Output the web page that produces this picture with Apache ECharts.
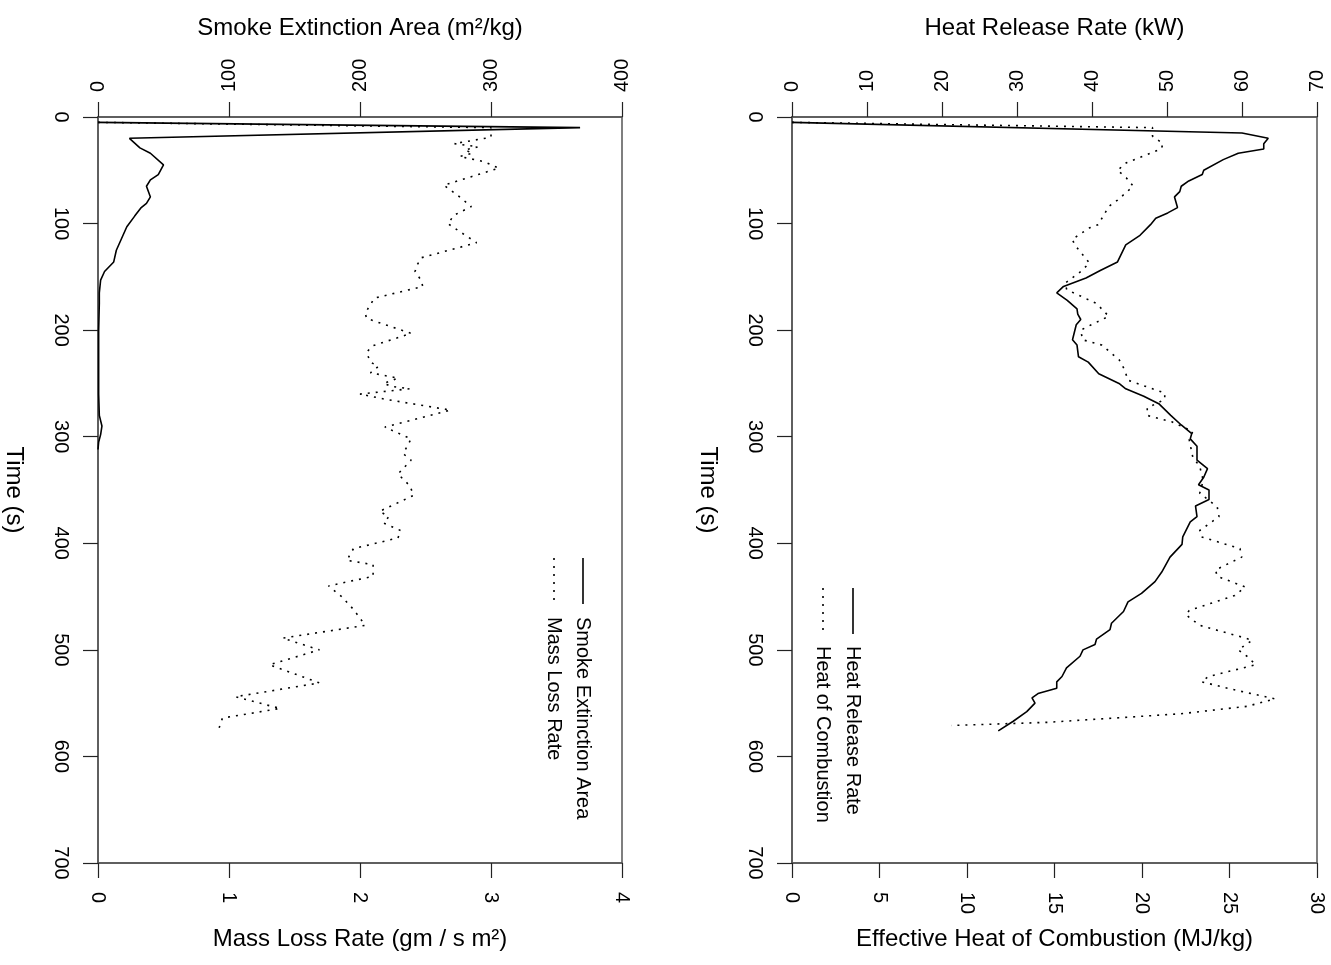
<!DOCTYPE html>
<html>
<head>
<meta charset="utf-8">
<script src="https://cdn.jsdelivr.net/npm/echarts@6/dist/echarts.min.js"></script>
<style>
html,body{margin:0;padding:0;background:#fff;}
#chart{width:1331px;height:965px;}
</style>
</head>
<body>
<div id="chart"></div>
<script>
// ---- Data (time in s) ----
var seaTime  = [5,10,20,29,34,45,54,59,65,75,81,85,93,103,114,125,136,145,153,165,175,200,230,260,280,290,298,305,312];
var seaValue = [0,368,24,32,40,50,46,40,37,40,37,33,28,22,18,14,12,5,2,1,1,0.5,0.5,0.5,1,3,2,0.5,0];

var mlrTime  = [5,10,19,25,28,31,34,37,42,48,56,64,74,84,92,100,109,118,132,138,145,152,159,170,184,189,203,215,221,230,234,240,245,250,253,255,260,265,275,291,302,316,322,335,346,355,370,375,381,388,395,405,416,420,431,440,450,462,477,489,500,514,531,544,555,564,575];
var mlrValue = [0,3.0,3.0,2.72,2.9,2.8,2.86,2.76,2.95,3.06,2.85,2.64,2.75,2.85,2.72,2.67,2.78,2.89,2.47,2.44,2.42,2.46,2.48,2.11,2.04,2.05,2.39,2.09,2.05,2.08,2.14,2.08,2.29,2.18,2.25,2.38,2.0,2.2,2.69,2.19,2.39,2.33,2.39,2.29,2.38,2.41,2.15,2.22,2.18,2.31,2.29,1.95,1.90,2.10,2.10,1.76,1.86,1.95,2.04,1.41,1.69,1.31,1.69,1.05,1.39,0.95,0.92];

var hrrTime  = [5,15,20,25,30,34,40,50,54,60,65,70,75,85,90,95,101,111,120,136,144,151,159,165,172,180,185,190,195,209,214,225,230,241,250,255,262,269,280,289,297,302,309,322,330,338,345,350,359,365,375,380,394,401,413,427,436,447,455,464,475,481,490,495,500,506,517,525,530,536,541,545,550,558,567,576];
var hrrValue = [0,60,63.5,62.9,62.9,59.5,57.5,54.9,54.7,52.9,51.9,51.7,51.0,51.4,50.1,48.5,47.8,46.4,44.5,43.4,41.1,39.2,36.2,35.3,36.7,38.0,38.1,38.5,37.9,37.4,38.0,38.2,39.5,40.9,43.6,44.5,46.9,48.9,50.5,51.9,53.3,53.1,54.0,54.0,55.4,54.9,54.2,55.6,55.6,53.8,54.0,53.1,52.1,52.0,50.4,49.3,48.4,46.6,44.8,44.2,42.6,42.4,40.6,40.4,38.8,38.4,36.6,36.0,35.3,35.3,32.8,32.0,32.4,31.3,29.5,27.5];

var ehcTime  = [5,10,18,25,30,43,50,57,65,78,84,101,104,115,123,137,145,156,162,175,187,195,200,209,214,228,237,247,251,259,265,273,280,286,295,303,319,328,341,353,366,375,388,394,405,413,425,431,441,449,463,467,477,488,491,500,506,514,525,530,538,546,553,560,564,568,571];
var ehcValue = [0,20.6,20.6,21.2,21.1,19.1,18.6,19.1,19.5,18.6,18.1,17.5,17.0,16.0,16.3,17.0,16.5,15.6,15.7,17.4,18.1,17.1,16.5,16.6,17.7,18.7,19.0,19.2,19.9,21.3,21.3,20.3,20.3,21.7,22.9,22.7,22.9,23.3,23.5,23.3,24.3,24.4,23.3,23.4,25.6,25.7,24.2,24.3,25.9,25.3,22.7,22.5,23.3,25.7,26.3,25.5,26.0,26.5,23.8,23.4,25.4,27.6,26.0,22.2,18.4,14.6,9.1];

// axis ranges / ticks
var timeAxis = {min:0, max:700, step:100};
var seaAxis  = {min:0, max:400, step:100};
var mlrAxis  = {min:0, max:4, step:1};
var hrrAxis  = {min:0, max:70, step:10};
var ehcAxis  = {min:0, max:30, step:5};

var legendLeft  = ['Smoke Extinction Area', 'Mass Loss Rate'];
var legendRight = ['Heat Release Rate', 'Heat of Combustion'];

function pairs(t, v){ return t.map(function(x,i){ return [v[i], x]; }); }

var FONT = '"Liberation Sans", Arial, sans-serif';
var tickFont = {fontFamily: FONT, fontSize: 20, color: '#000'};
var nameFont = {fontFamily: FONT, fontSize: 24, color: '#000'};

function xAx(grid, pos, rng, name, gap, margin){
  return {
    type:'value', gridIndex:grid, position:pos, min:rng.min, max:rng.max, interval:rng.step,
    name:name, nameLocation:'middle', nameGap:gap, nameTextStyle:nameFont,
    axisLine:{show:true, onZero:false, lineStyle:{color:'#555', width:1.5}},
    axisTick:{show:true, inside:false, length:15, lineStyle:{color:'#222', width:1.2}},
    axisLabel:Object.assign({rotate:-90, margin:margin}, tickFont),
    splitLine:{show:false}
  };
}
function yAx(grid){
  return {
    type:'value', gridIndex:grid, position:'left', inverse:true,
    min:timeAxis.min, max:timeAxis.max, interval:timeAxis.step,
    name:'Time (s)', nameLocation:'middle', nameRotate:-90, nameGap:72, nameTextStyle:nameFont,
    axisLine:{show:true, onZero:false, lineStyle:{color:'#555', width:1.5}},
    axisTick:{show:true, inside:false, length:15, lineStyle:{color:'#222', width:1.2}},
    axisLabel:Object.assign({rotate:-90, margin:27}, tickFont),
    splitLine:{show:false}
  };
}
var solid = {color:'#000', width:1.6, type:'solid'};
var dotted = {color:'#000', width:1.6, type:[2,6], cap:'butt'};

function legendGraphic(x1, x2, yLineTop, yLineBot, yText, labels){
  var g = [];
  g.push({type:'line', shape:{x1:x1, y1:yLineTop, x2:x1, y2:yLineBot}, style:{stroke:'#000', lineWidth:1.6}});
  g.push({type:'line', shape:{x1:x2, y1:yLineTop, x2:x2, y2:yLineBot}, style:{stroke:'#000', lineWidth:1.6, lineDash:[2,6]}});
  g.push({type:'text', x:x1, y:yText, rotation:-Math.PI/2, style:{text:labels[0], font:'20px ' + FONT, fill:'#000', textAlign:'left', textVerticalAlign:'middle'}});
  g.push({type:'text', x:x2, y:yText, rotation:-Math.PI/2, style:{text:labels[1], font:'20px ' + FONT, fill:'#000', textAlign:'left', textVerticalAlign:'middle'}});
  return g;
}

var chart = echarts.init(document.getElementById('chart'), null, {renderer:'canvas'});
chart.setOption({
  animation:false,
  backgroundColor:'#fff',
  grid:[
    {left:98, right:709, top:117, bottom:102, show:true, borderColor:'#555', borderWidth:1.5},
    {left:792, right:14, top:117, bottom:102, show:true, borderColor:'#555', borderWidth:1.5}
  ],
  xAxis:[
    xAx(0,'top', seaAxis, 'Smoke Extinction Area (m²/kg)', 77, 25),
    xAx(0,'bottom', mlrAxis, 'Mass Loss Rate (gm / s m²)', 64, 29),
    xAx(1,'top', hrrAxis, 'Heat Release Rate (kW)', 77, 25),
    xAx(1,'bottom', ehcAxis, 'Effective Heat of Combustion (MJ/kg)', 64, 29)
  ],
  yAxis:[yAx(0), yAx(1)],
  series:[
    {name:legendLeft[0], type:'line', xAxisIndex:0, yAxisIndex:0, data:pairs(seaTime, seaValue), showSymbol:false, lineStyle:solid},
    {name:legendLeft[1], type:'line', xAxisIndex:1, yAxisIndex:0, data:pairs(mlrTime, mlrValue), showSymbol:false, lineStyle:dotted},
    {name:legendRight[0], type:'line', xAxisIndex:2, yAxisIndex:1, data:pairs(hrrTime, hrrValue), showSymbol:false, lineStyle:solid},
    {name:legendRight[1], type:'line', xAxisIndex:3, yAxisIndex:1, data:pairs(ehcTime, ehcValue), showSymbol:false, lineStyle:dotted}
  ],
  graphic: legendGraphic(583, 554, 558, 604, 617, legendLeft).concat(legendGraphic(853, 823, 588, 634, 646, legendRight))
});
</script>
</body>
</html>
